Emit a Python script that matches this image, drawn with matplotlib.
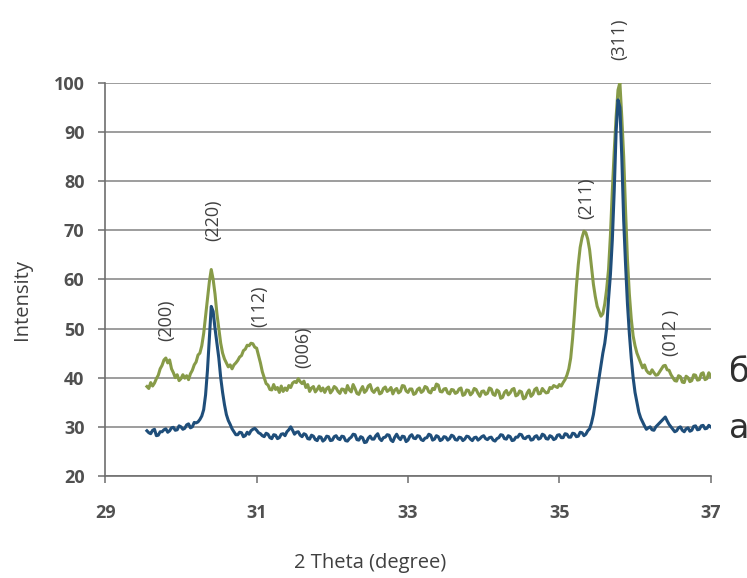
import matplotlib
matplotlib.use("Agg")
import matplotlib.pyplot as plt

# 2-theta sample grid (degrees)
two_theta = [
    29.550, 29.575, 29.600, 29.625, 29.650, 29.675, 29.700, 29.725, 29.750, 29.775,
    29.800, 29.825, 29.850, 29.875, 29.900, 29.925, 29.950, 29.975, 30.000, 30.025,
    30.050, 30.075, 30.100, 30.125, 30.150, 30.175, 30.200, 30.225, 30.250, 30.275,
    30.300, 30.325, 30.350, 30.375, 30.400, 30.425, 30.450, 30.475, 30.500, 30.525,
    30.550, 30.575, 30.600, 30.625, 30.650, 30.675, 30.700, 30.725, 30.750, 30.775,
    30.800, 30.825, 30.850, 30.875, 30.900, 30.925, 30.950, 30.975, 31.000, 31.025,
    31.050, 31.075, 31.100, 31.125, 31.150, 31.175, 31.200, 31.225, 31.250, 31.275,
    31.300, 31.325, 31.350, 31.375, 31.400, 31.425, 31.450, 31.475, 31.500, 31.525,
    31.550, 31.575, 31.600, 31.625, 31.650, 31.675, 31.700, 31.725, 31.750, 31.775,
    31.800, 31.825, 31.850, 31.875, 31.900, 31.925, 31.950, 31.975, 32.000, 32.025,
    32.050, 32.075, 32.100, 32.125, 32.150, 32.175, 32.200, 32.225, 32.250, 32.275,
    32.300, 32.325, 32.350, 32.375, 32.400, 32.425, 32.450, 32.475, 32.500, 32.525,
    32.550, 32.575, 32.600, 32.625, 32.650, 32.675, 32.700, 32.725, 32.750, 32.775,
    32.800, 32.825, 32.850, 32.875, 32.900, 32.925, 32.950, 32.975, 33.000, 33.025,
    33.050, 33.075, 33.100, 33.125, 33.150, 33.175, 33.200, 33.225, 33.250, 33.275,
    33.300, 33.325, 33.350, 33.375, 33.400, 33.425, 33.450, 33.475, 33.500, 33.525,
    33.550, 33.575, 33.600, 33.625, 33.650, 33.675, 33.700, 33.725, 33.750, 33.775,
    33.800, 33.825, 33.850, 33.875, 33.900, 33.925, 33.950, 33.975, 34.000, 34.025,
    34.050, 34.075, 34.100, 34.125, 34.150, 34.175, 34.200, 34.225, 34.250, 34.275,
    34.300, 34.325, 34.350, 34.375, 34.400, 34.425, 34.450, 34.475, 34.500, 34.525,
    34.550, 34.575, 34.600, 34.625, 34.650, 34.675, 34.700, 34.725, 34.750, 34.775,
    34.800, 34.825, 34.850, 34.875, 34.900, 34.925, 34.950, 34.975, 35.000, 35.025,
    35.050, 35.075, 35.100, 35.125, 35.150, 35.175, 35.200, 35.225, 35.250, 35.275,
    35.300, 35.325, 35.350, 35.375, 35.400, 35.425, 35.450, 35.475, 35.500, 35.525,
    35.550, 35.575, 35.600, 35.625, 35.650, 35.675, 35.700, 35.725, 35.750, 35.775,
    35.800, 35.825, 35.850, 35.875, 35.900, 35.925, 35.950, 35.975, 36.000, 36.025,
    36.050, 36.075, 36.100, 36.125, 36.150, 36.175, 36.200, 36.225, 36.250, 36.275,
    36.300, 36.325, 36.350, 36.375, 36.400, 36.425, 36.450, 36.475, 36.500, 36.525,
    36.550, 36.575, 36.600, 36.625, 36.650, 36.675, 36.700, 36.725, 36.750, 36.775,
    36.800, 36.825, 36.850, 36.875, 36.900, 36.925, 36.950, 36.975, 37.000,
]

# sample b (green)
intensity_b = [
    38.2, 37.8, 39.0, 38.3, 38.9, 39.8, 40.5, 41.8, 42.5, 43.6,
    44.0, 43.0, 43.6, 41.8, 41.0, 40.0, 40.6, 39.4, 39.8, 40.6,
    39.9, 40.4, 39.6, 40.8, 41.5, 42.6, 43.2, 44.6, 45.0, 46.5,
    49.0, 52.5, 56.0, 59.5, 62.0, 60.0, 57.0, 53.0, 50.0, 47.0,
    45.0, 43.8, 43.0, 42.2, 42.6, 41.8, 42.6, 43.0, 43.5, 44.2,
    44.5, 45.5, 45.8, 46.6, 46.5, 47.0, 46.9, 46.2, 46.0, 44.5,
    43.0, 41.2, 40.0, 38.8, 38.5, 37.6, 37.5, 38.6, 37.6, 38.0,
    37.0, 38.3, 37.2, 37.9, 37.4, 38.4, 38.0, 38.9, 39.2, 39.0,
    39.8, 39.2, 38.8, 39.3, 38.0, 38.6, 37.2, 37.9, 38.2, 37.1,
    37.6, 38.3, 37.3, 37.9, 37.0, 37.8, 38.1, 36.9, 37.4, 38.2,
    37.9, 37.2, 36.8, 37.7, 37.6, 36.9, 38.4, 37.5, 37.1, 38.6,
    37.8, 36.8, 36.6, 37.5, 38.2, 37.0, 37.4, 38.3, 38.6, 37.4,
    37.0, 37.6, 37.9, 36.7, 36.9, 37.8, 38.1, 37.2, 37.5, 38.0,
    36.7, 37.5, 37.8, 36.9, 37.2, 38.4, 38.3, 37.3, 37.0, 37.7,
    37.7, 36.6, 36.8, 37.6, 37.9, 37.0, 37.3, 38.2, 38.0, 37.1,
    36.9, 37.8, 37.6, 38.7, 38.5, 37.2, 37.1, 37.7, 37.8, 36.9,
    36.7, 37.6, 37.5, 36.8, 37.0, 37.7, 37.9, 36.4, 36.6, 37.5,
    37.4, 36.5, 36.9, 37.8, 37.6, 36.8, 36.2, 37.2, 37.3, 36.6,
    36.8, 37.9, 37.7, 36.6, 36.4, 37.5, 37.2, 35.8, 36.0, 37.0,
    37.4, 36.5, 36.9, 37.6, 37.8, 36.3, 36.5, 37.3, 37.1, 35.7,
    35.9, 36.9, 37.5, 36.2, 36.6, 37.6, 37.9, 36.7, 36.8, 37.8,
    37.3, 36.9, 37.0, 38.0, 37.8, 38.4, 38.2, 38.0, 38.6, 38.3,
    39.0, 39.6, 40.5, 41.8, 44.0, 48.0, 53.0, 58.5, 63.0, 66.5,
    68.5, 69.8, 69.5, 68.2, 66.0, 62.5, 59.0, 56.5, 54.5, 53.5,
    52.5, 53.0, 55.0, 58.0, 62.0, 69.0, 78.0, 86.0, 93.0, 98.5,
    100.0, 93.0, 85.0, 74.0, 64.0, 57.0, 52.0, 48.5, 46.5, 45.0,
    44.0, 43.0, 42.0, 42.6, 41.5, 41.0, 40.8, 41.6, 41.0, 40.5,
    40.6, 41.2, 41.8, 42.4, 42.5, 41.6, 41.5, 40.6, 40.0, 39.4,
    39.3, 40.4, 40.2, 39.1, 39.0, 40.3, 40.0, 39.2, 39.4, 40.6,
    40.5, 39.5, 39.6, 40.8, 41.0, 39.6, 39.8, 41.0, 40.3,
]

# sample a (blue)
intensity_a = [
    29.2, 28.8, 28.6, 29.3, 29.5, 28.2, 28.3, 29.0, 29.0, 29.4,
    29.6, 28.9, 29.2, 29.8, 29.9, 29.3, 29.4, 30.2, 30.0, 29.5,
    29.7, 30.4, 30.6, 29.8, 30.0, 30.9, 30.8, 31.0, 31.5, 32.2,
    33.5, 36.5, 41.5, 48.0, 54.5, 53.5, 50.0, 47.0, 44.0, 40.0,
    37.0, 34.5, 32.5, 31.3, 30.5, 29.6, 29.0, 28.4, 28.4, 28.9,
    28.8, 28.0, 28.2, 28.9, 28.5, 29.2, 29.5, 29.7, 29.3, 28.8,
    28.6, 28.2, 28.0, 28.7, 28.5, 27.8, 27.6, 28.4, 28.3, 27.6,
    27.8, 28.5, 28.6, 28.2, 29.0, 29.4, 30.0, 29.3, 28.5, 28.9,
    29.0, 28.3, 28.0, 28.6, 28.4, 27.6, 27.5, 28.3, 28.1, 27.4,
    27.2, 28.0, 27.9, 27.1, 27.4, 28.1, 28.0, 27.2, 27.3, 28.0,
    28.2, 27.6, 27.4, 28.1, 28.0, 27.2, 27.1, 27.6, 27.9, 28.5,
    28.4, 27.4, 27.3, 28.0, 27.8, 26.8, 26.9, 27.7, 28.1, 27.5,
    27.5, 28.2, 28.6, 27.6, 27.2, 27.8, 27.9, 28.4, 28.3, 27.3,
    27.0, 27.9, 28.5, 27.8, 27.4, 28.1, 28.0, 27.0, 27.3, 28.1,
    28.4, 27.7, 27.6, 28.2, 28.1, 27.4, 27.2, 27.7, 27.8, 28.5,
    28.3, 27.3, 27.5, 28.2, 28.0, 27.2, 27.4, 28.0, 27.9, 27.3,
    27.6, 28.3, 28.1, 27.4, 27.3, 27.9, 27.8, 27.2, 27.5, 28.1,
    28.0, 27.5, 27.2, 27.8, 27.9, 27.3, 27.6, 28.0, 28.2, 27.6,
    27.4, 27.8, 27.9, 27.3, 27.1, 27.6, 27.8, 28.4, 28.3, 27.6,
    27.5, 28.2, 28.0, 27.2, 27.3, 27.9, 27.9, 28.5, 28.4, 27.7,
    27.6, 28.0, 28.1, 27.3, 27.4, 28.0, 28.2, 27.5, 27.7, 28.5,
    28.3, 27.6, 27.5, 28.2, 28.0, 27.4, 27.6, 28.3, 28.4, 27.8,
    27.8, 28.6, 28.5, 27.9, 27.9, 28.7, 28.6, 28.0, 28.1, 28.9,
    28.8, 28.2, 28.5, 29.2, 29.6, 30.8, 32.5, 35.0, 37.5, 40.0,
    42.5, 45.0, 47.0, 50.0, 56.0, 61.0, 68.0, 78.0, 90.0, 96.5,
    95.0, 85.0, 72.0, 63.0, 55.0, 49.0, 44.0, 40.0, 37.0, 35.0,
    33.0, 31.8, 31.0, 30.2, 29.5, 29.8, 30.0, 29.4, 29.3, 30.0,
    30.4, 30.8, 31.2, 31.6, 32.0, 31.2, 30.5, 30.0, 29.5, 29.0,
    29.2, 29.8, 30.0, 29.3, 29.0, 29.6, 29.8, 29.1, 29.3, 30.1,
    30.2, 29.4, 29.5, 30.2, 30.3, 29.6, 29.7, 30.3, 30.0,
]

peak_labels = ["(200)", "(220)", "(112)", "(006)", "(211)", "(311)", "(012 )"]
peak_label_x = [29.80, 30.43, 31.04, 31.62, 35.36, 35.79, 36.48]
peak_label_y = [51.6, 72.1, 54.5, 46.2, 76.4, 108.8, 49.2]

x_ticks = [29, 31, 33, 35, 37]
y_ticks = [20, 30, 40, 50, 60, 70, 80, 90, 100]

series_names = ["б", "а"]

GREEN = "#879b48"
BLUE = "#1f4e7a"
TICK_COLOR = "#505050"

fig = plt.figure(figsize=(7.47, 5.78), dpi=100)
ax = fig.add_axes([105.3 / 747, 1 - 476 / 578, (710.7 - 105.3) / 747, (476 - 82.7) / 578])

ax.plot(two_theta, intensity_b, color=GREEN, lw=2.2, solid_joinstyle="round", zorder=3)
ax.plot(two_theta, intensity_a, color=BLUE, lw=2.2, solid_joinstyle="round", zorder=4)

ax.set_xlim(29, 37)
ax.set_ylim(20, 100)
ax.set_xticks(x_ticks)
ax.set_yticks(y_ticks)
ax.set_xticklabels([str(t) for t in x_ticks])
ax.set_yticklabels([str(t) for t in y_ticks])

for lbl in ax.get_xticklabels() + ax.get_yticklabels():
    lbl.set_fontfamily("Open Sans")
    lbl.set_fontweight("bold")
    lbl.set_fontsize(13)
    lbl.set_color(TICK_COLOR)

ax.tick_params(axis="both", direction="out", length=5, width=1.1, color="#6e6e6e")
ax.tick_params(axis="y", pad=10)
ax.tick_params(axis="x", pad=15)

ax.grid(axis="y", color="#8c8c8c", lw=1.2)
ax.set_axisbelow(True)
for s in ["top", "right"]:
    ax.spines[s].set_visible(False)
for s in ["left", "bottom"]:
    ax.spines[s].set_color("#6e6e6e")
    ax.spines[s].set_linewidth(1.2)

for t, xv, yv in zip(peak_labels, peak_label_x, peak_label_y):
    ax.text(xv, yv, t, rotation=90, ha="center", va="center", fontsize=13,
            family="Open Sans", color="#404040", clip_on=False, zorder=5)

fig.text(22 / 747, 1 - 300 / 578, "Intensity", rotation=90, ha="center", va="center",
         fontsize=14.5, family="Open Sans", color="#404040")
fig.text(370 / 747, 1 - 563 / 578, "2 Theta (degree)", ha="center", va="center",
         fontsize=14.5, family="Open Sans", color="#404040")

# series names at right edge (partly cut off in the reference)
fig.text(729 / 747, 1 - 372 / 578, series_names[0], ha="left", va="center",
         fontsize=24, family="DejaVu Sans", color="#303030")
fig.text(729 / 747, 1 - 429 / 578, series_names[1], ha="left", va="center",
         fontsize=24, family="DejaVu Sans", color="#303030")

fig.savefig("out.png", dpi=100)
